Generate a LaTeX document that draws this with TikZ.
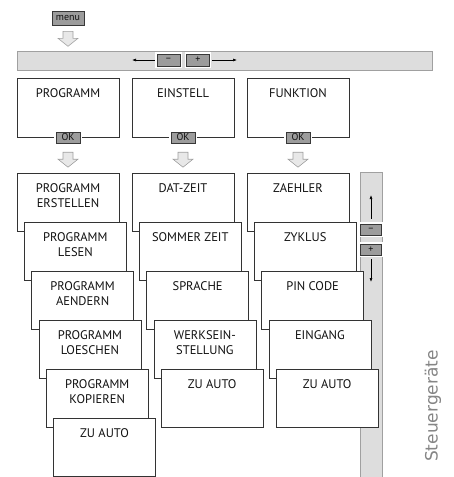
\documentclass[tikz,border=0pt]{standalone}
\usepackage{fontspec}
\setmainfont{PT Sans}
\newfontfamily\sidefont{DejaVu Sans}
\usetikzlibrary{arrows.meta, positioning, calc}
\definecolor{BoxLine}{HTML}{333333}
\definecolor{BtnFill}{HTML}{9C9C9C}
\definecolor{BtnLine}{HTML}{383838}
\definecolor{BarFill}{HTML}{DDDDDD}
\definecolor{BarLine}{HTML}{A0A0A0}
\definecolor{ArrowFill}{HTML}{E8E8E8}
\definecolor{ArrowLine}{HTML}{A0A0A0}
\definecolor{TxtPri}{HTML}{111111}
\definecolor{TxtSide}{HTML}{858585}

\begin{document}
\begin{tikzpicture}[x=1pt, y=-1pt,
    boxlabel/.style={anchor=north, yshift=-11pt, inner sep=0pt, align=center,
      font=\fontsize{12.5}{15}\selectfont, text=TxtPri},
    framebox/.style={draw=BoxLine, fill=white, line width=0.8pt, inner sep=0pt,
      minimum width=102pt, minimum height=58pt},
    titled/.style={label={[boxlabel]north:#1}},
    btn/.style={draw=BtnLine, fill=BtnFill, line width=0.6pt, inner sep=0pt,
      minimum width=23pt, minimum height=12pt, font=\fontsize{10}{10}\selectfont,
      text=TxtPri, preaction={draw=white, line width=3.5pt}},
    bar/.style={draw=BarLine, fill=BarFill, line width=0.8pt, inner sep=0pt},
    barline/.style={draw=black, line width=0.6pt, shorten <=2pt,
      -{Latex[length=4pt, width=3pt]}},
    hollowdown/.pic={\draw[draw=ArrowLine, fill=ArrowFill, line width=0.6pt]
      (-5,0) -- (5,0) -- (5,7) -- (10,7) -- (0,15) -- (-10,7) -- (-5,7) -- cycle;}]

  \useasboundingbox (0,0) rectangle (453,477);

  \node[btn, minimum width=32pt, minimum height=14pt] (menu) at (68,18) {menu};
  \pic at ($(menu.south)+(0,6)$) {hollowdown};

  \node[bar, minimum width=415pt, minimum height=19pt] (hbar) at (224.5,60.5) {};
  \node[btn] (minus) at (168.5,60) {–};
  \node[btn] (plus) at (198,60) {+};
  \coordinate (leftend) at (132,60);
  \coordinate (rightend) at (237,60);
  \draw[barline] (minus.west) -- (leftend);
  \draw[barline] (plus.east) -- (rightend);

  \node[bar, minimum width=22pt, minimum height=310pt] (vbar) at (371,327) {};
  \node[btn, minimum width=21pt, minimum height=11pt] (vminus) at (371,229.5) {–};
  \node[btn, minimum width=21pt, minimum height=11pt] (vplus) at (371,249.5) {+};
  \coordinate (upend) at (371,195);
  \coordinate (downend) at (371,282);
  \draw[barline, shorten <=5pt] (vminus.north) -- (upend);
  \draw[barline, shorten <=4pt] (vplus.south) -- (downend);

  \node[framebox, minimum height=59pt, titled=PROGRAMM] (programm) at (68,107.5) {};
  \node[framebox, minimum height=59pt, titled=EINSTELL] (einstell) at (183,107.5) {};
  \node[framebox, minimum height=59pt, titled=FUNKTION] (funktion) at (298,107.5) {};

  \foreach \top/\ok in {programm/okA, einstell/okB, funktion/okC} {
    \node[btn, minimum width=24pt, minimum height=11pt] (\ok) at (\top.south) {OK};
    \pic at ($(\ok.south)+(0,9)$) {hollowdown};
  }

  \foreach \name/\txt [count=\i from 0] in {erstellen/{PROGRAMM\\ERSTELLEN},
      lesen/{PROGRAMM\\LESEN}, aendern/{PROGRAMM\\AENDERN},
      loeschen/{PROGRAMM\\LOESCHEN}, kopieren/{PROGRAMM\\KOPIEREN},
      autoA/{ZU AUTO}}
    \node[framebox, titled=\txt] (\name) at (68+7.3*\i,202+49*\i) {};

  \foreach \name/\txt [count=\i from 0] in {datzeit/{DAT-ZEIT},
      sommerzeit/{SOMMER ZEIT}, sprache/{SPRACHE},
      werkseinst/{WERKSEIN-\\STELLUNG}, autoB/{ZU AUTO}}
    \node[framebox, titled=\txt] (\name) at (183+7.3*\i,202+49*\i) {};

  \foreach \name/\txt [count=\i from 0] in {zaehler/{ZAEHLER},
      zyklus/{ZYKLUS}, pincode/{PIN CODE}, eingang/{EINGANG}, autoC/{ZU AUTO}}
    \node[framebox, titled=\txt] (\name) at (298+7.3*\i,202+49*\i) {};

  \node[rotate=90, font=\sidefont\fontsize{17}{17}\selectfont, text=TxtSide]
    (steuer) at (433,406) {Steuergeräte};
\end{tikzpicture}
\end{document}
